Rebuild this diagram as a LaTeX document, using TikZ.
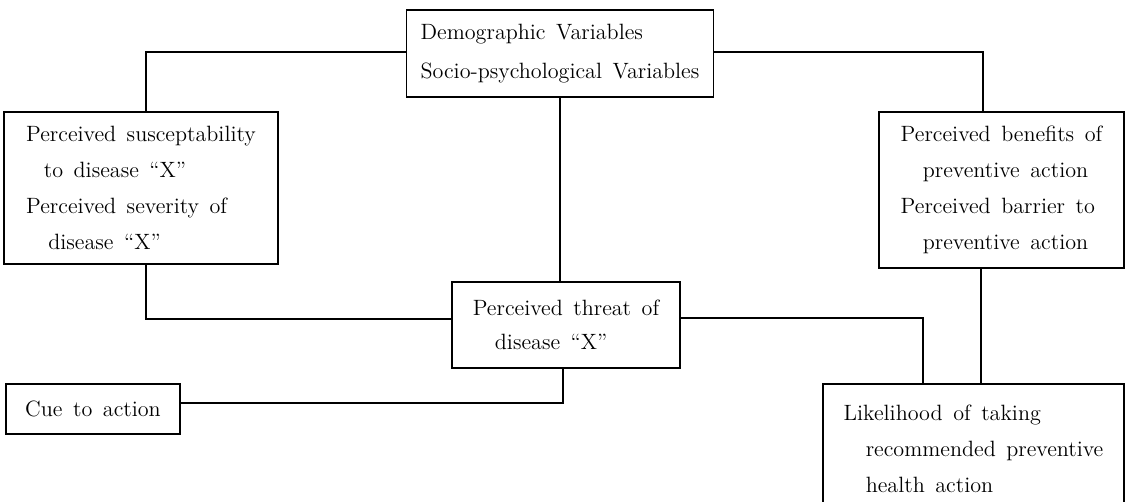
\documentclass[tikz,border=0pt]{standalone}
\usepackage{tikz}
\usetikzlibrary{positioning}
\usetikzlibrary{calc}

\begin{document}
\begin{tikzpicture}[x=0.02cm,y=-0.02cm,
		box/.style={draw,line width=0.8pt,align=left,inner sep=0pt,font={\fontsize{12.6}{20.5}\selectfont\spaceskip=6pt plus 1pt\relax}},
		link/.style={line width=1pt}]
				\useasboundingbox (0,0) rectangle (1126,502);
				\node[box,minimum width=6.14cm,minimum height=1.74cm,font={\fontsize{12.6}{22}\selectfont\spaceskip=6pt plus 1pt\relax}] (demo) at (560,53.5) {Demographic Variables\\Socio-psychological Variables};
				\node[box,minimum width=5.48cm,minimum height=3.04cm] (susc) at (141,188) {Perceived susceptability\\\hspace*{0.8em}to disease ``X''\\Perceived severity of\\\hspace*{1em}disease ``X''};
				\node[box,minimum width=4.9cm,minimum height=3.12cm] (bene) at (1001.5,190) {Perceived benefits of\\\hspace*{1em}preventive action\\Perceived barrier to\\\hspace*{1em}preventive action};
				\node[box,minimum width=4.56cm,minimum height=1.72cm,font={\fontsize{12.6}{19}\selectfont\spaceskip=6pt plus 1pt\relax}] (thr) at (566,325) {Perceived threat of\\\hspace*{1em}disease ``X''};
				\node[box,minimum width=3.48cm,minimum height=1cm] (cue) at (93,409) {Cue to action};
				\node[box,minimum width=6.02cm,minimum height=2.6cm] (like) at (973.5,449) {Likelihood of taking\\\hspace*{1em}recommended preventive\\\hspace*{1em}health action};
				\draw[link] ($(demo.west)+(0,-1.5)$) -| ($(susc.north)+(5,0)$);
				\draw[link] ($(demo.east)+(0,-1.5)$) -| ($(bene.north)+(-18.5,0)$);
				\draw[link] (demo.south) -- (demo.south |- thr.north);
				\draw[link] ($(susc.south)+(5,0)$) |- ($(thr.west)+(0,-6)$);
				\draw[link] ($(thr.east)+(0,-7)$) -| ($(like.north)+(-50.5,0)$);
				\coordinate (bl) at ($(bene.south)+(-20.5,0)$);
				\draw[link] (bl) -- (bl |- like.north);
				\draw[link] ($(thr.south)+(-3,0)$) |- ($(cue.east)+(0,-6)$);
\end{tikzpicture}
\end{document}
